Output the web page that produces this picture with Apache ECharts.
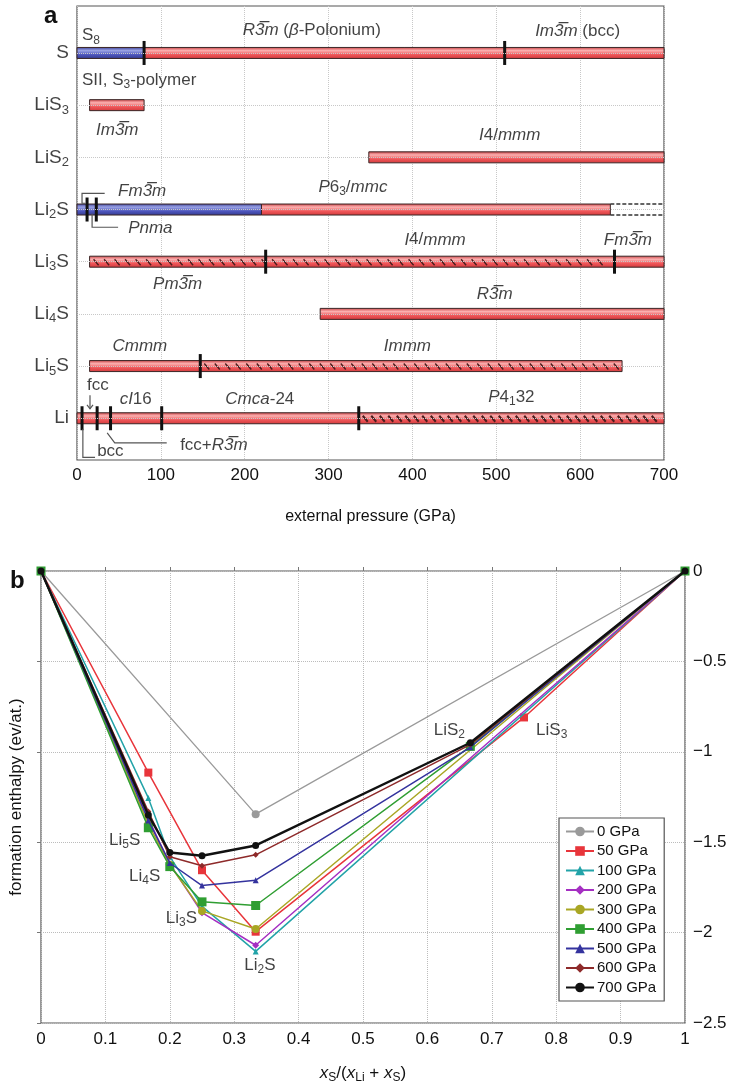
<!DOCTYPE html>
<html>
<head>
<meta charset="utf-8">
<script src="https://cdn.jsdelivr.net/npm/echarts@6/dist/echarts.min.js"></script>
<style>
html, body { margin: 0; padding: 0; background: #fff; }
#main { width: 734px; height: 1085px; }
</style>
</head>
<body>
<div id="main"></div>
<script>
// ---- panel a : phase diagram, rows top to bottom ----
var rowNames = ['S', 'LiS{sub|3}', 'LiS{sub|2}', 'Li{sub|2}S', 'Li{sub|3}S', 'Li{sub|4}S', 'Li{sub|5}S', 'Li'];
// [row, from GPa, to GPa, kind]
var phaseBars = [
  [0, 0, 80, 'blue'], [0, 80, 700, 'red'],
  [1, 15, 80, 'red'],
  [2, 348, 700, 'red'],
  [3, 0, 220, 'blue'], [3, 220, 636, 'red'], [3, 636, 700, 'dashed'],
  [4, 15, 640, 'hatch'], [4, 640, 700, 'red'],
  [5, 290, 700, 'red'],
  [6, 15, 147, 'red'], [6, 147, 650, 'hatch'],
  [7, 0, 336, 'red'], [7, 336, 700, 'dense']
];
// [row, GPa]
var transitions = [[0, 80], [0, 510], [3, 12], [3, 23], [4, 225], [4, 641], [6, 147],
  [7, 6], [7, 24], [7, 40], [7, 101], [7, 336]];
// [GPa, row position, text, align]
var phaseLabels = [
  [6, -0.33, 'S{sub|8}', 'left'],
  [280, -0.44, '{i|R3\u0305m} ({i|\u03b2}-Polonium)', 'center'],
  [597, -0.41, '{i|Im3\u0305m} (bcc)', 'center'],
  [6, 0.52, 'SII, S{sub|3}-polymer', 'left'],
  [48, 1.48, '{i|Im3\u0305m}', 'center'],
  [516, 1.58, '{i|I}4/{i|mmm}', 'center'],
  [49, 2.65, '{i|Fm3\u0305m}', 'left'],
  [329, 2.58, '{i|P}6{sub|3}/{i|mmc}', 'center'],
  [61, 3.36, '{i|Pnma}', 'left'],
  [427, 3.58, '{i|I}4/{i|mmm}', 'center'],
  [657, 3.58, '{i|Fm3\u0305m}', 'center'],
  [120, 4.43, '{i|Pm3\u0305m}', 'center'],
  [498, 4.63, '{i|R3\u0305m}', 'center'],
  [75, 5.63, '{i|Cmmm}', 'center'],
  [394, 5.63, '{i|Immm}', 'center'],
  [25, 6.37, 'fcc', 'center'],
  [70, 6.63, '{i|cI}16', 'center'],
  [218, 6.63, '{i|Cmca}-24', 'center'],
  [518, 6.6, '{i|P}4{sub|1}32', 'center'],
  [24, 7.63, 'bcc', 'left'],
  [123, 7.52, 'fcc+{i|R3\u0305m}', 'left']
];
// pointer lines, lists of [GPa, row position]
var pointerLines = [
  [[33, 2.69], [6, 2.69], [6, 2.88], [10, 2.88]],
  [[18, 3.08], [18, 3.34], [49, 3.34]],
  [[15.5, 6.56], [15.5, 6.82]],
  [[7, 7.2], [7, 7.75], [21.5, 7.75]],
  [[36, 7.28], [45, 7.47], [107, 7.47]]
];

// ---- panel b : formation enthalpy ----
var xS = [0, 1 / 6, 0.2, 0.25, 1 / 3, 2 / 3, 0.75, 1];
var h0   = [0, null, null, null, -1.345, null, null, 0];
var h50  = [0, -1.115, null, -1.655, -1.995, null, -0.81, 0];
var h100 = [0, -1.255, -1.58, -1.855, -2.104, null, null, 0];
var h200 = [0, -1.37, -1.62, -1.89, -2.07, null, null, 0];
var h300 = [0, -1.40, -1.625, -1.88, -1.98, null, null, 0];
var h400 = [0, -1.42, -1.635, -1.83, -1.85, -0.97, null, 0];
var h500 = [0, -1.38, -1.615, -1.74, -1.71, -0.975, null, 0];
var h600 = [0, -1.33, -1.58, -1.63, -1.57, -0.96, null, 0];
var h700 = [0, -1.35, -1.557, -1.575, -1.518, -0.95, null, 0];
var enthalpy = [h0, h50, h100, h200, h300, h400, h500, h600, h700];
var pressures = ['0 GPa', '50 GPa', '100 GPa', '200 GPa', '300 GPa', '400 GPa', '500 GPa', '600 GPa', '700 GPa'];
var lineColors = ['#9a9a9a', '#e8353b', '#22a3a8', '#a52fc2', '#a9a624', '#2f9e32', '#34339e', '#8e2a2a', '#111111'];
var lineSymbols = ['circle', 'rect', 'triangle', 'diamond', 'circle', 'rect', 'triangle', 'diamond', 'circle'];
var symbolSizes = [8, 8, 6, 7, 8, 9, 6, 6, 7];
// [x, y, text]
var compLabels = [
  [0.130, -1.49, 'Li{sub|5}S'],
  [0.161, -1.69, 'Li{sub|4}S'],
  [0.218, -1.92, 'Li{sub|3}S'],
  [0.340, -2.18, 'Li{sub|2}S'],
  [0.634, -0.88, 'LiS{sub|2}'],
  [0.793, -0.88, 'LiS{sub|3}']
];

var FONT = '"Liberation Sans", Arial, sans-serif';
var INK = '#111';
var rich = {
  i: { fontSize: 17, fontStyle: 'italic', fontFamily: FONT, color: INK },
  sub: { fontSize: 12, fontFamily: FONT, color: INK, padding: [9, 0, 0, 0] }
};

var redGrad = new echarts.graphic.LinearGradient(0, 0, 0, 1, [
  { offset: 0, color: '#c93b3e' },
  { offset: 0.3, color: '#fbb0b0' },
  { offset: 0.65, color: '#ef5558' },
  { offset: 1, color: '#cf3a3c' }
]);
var blueGrad = new echarts.graphic.LinearGradient(0, 0, 0, 1, [
  { offset: 0, color: '#373d96' },
  { offset: 0.3, color: '#9aa2e4' },
  { offset: 0.65, color: '#4d55bd' },
  { offset: 1, color: '#343a8c' }
]);

function renderBar(params, api) {
  var row = api.value(0);
  var a = api.coord([api.value(1), row]);
  var b = api.coord([api.value(2), row]);
  var kind = phaseBars[params.dataIndex][3];
  var h = 11, top = a[1] - h / 2;
  var kids = [];
  if (kind === 'dashed') {
    [top, top + h].forEach(function (yy) {
      kids.push({ type: 'line', shape: { x1: a[0], y1: yy, x2: b[0], y2: yy },
        style: { stroke: '#333', lineWidth: 1.3, lineDash: [4, 2] } });
    });
    return { type: 'group', children: kids };
  }
  kids.push({ type: 'rect', shape: { x: a[0], y: top, width: b[0] - a[0], height: h },
    style: { fill: kind === 'blue' ? blueGrad : redGrad, stroke: '#3b2626', lineWidth: 1 } });
  if (kind === 'hatch' || kind === 'dense') {
    var step = kind === 'hatch' ? 10.5 : 8.5;
    for (var x = a[0] + 4; x < b[0] - 6; x += step) {
      kids.push({ type: 'line', shape: { x1: x, y1: top + 3, x2: x + 5, y2: top + h - 2 },
        style: { stroke: '#4a1d1d', lineWidth: kind === 'hatch' ? 1.4 : 2 } });
    }
  }
  return { type: 'group', children: kids };
}

function renderTick(params, api) {
  var p = api.coord([api.value(1), api.value(0)]);
  return { type: 'line', shape: { x1: p[0], y1: p[1] - 12, x2: p[0], y2: p[1] + 12 },
    style: { stroke: '#111', lineWidth: 3 } };
}

function renderPointer(params, api) {
  var pts = pointerLines[params.dataIndex].map(function (q) { return api.coord(q); });
  var kids = [{ type: 'polyline', shape: { points: pts }, style: { stroke: '#555', lineWidth: 1.2, fill: null } }];
  if (params.dataIndex === 2) {
    var e = pts[pts.length - 1];
    kids.push({ type: 'polyline', shape: { points: [[e[0] - 3, e[1] - 4], [e[0], e[1]], [e[0] + 3, e[1] - 4]] },
      style: { stroke: '#555', lineWidth: 1.2, fill: null } });
  }
  return { type: 'group', children: kids };
}

var chart = echarts.init(document.getElementById('main'));

var series = [
  {
    type: 'scatter', xAxisIndex: 0, yAxisIndex: 0, symbolSize: 0, z: 1, silent: true,
    data: rowNames.map(function (n, i) { return [0, i]; }),
    label: {
      show: true, position: 'left', distance: 8, fontSize: 19, color: INK, fontFamily: FONT,
      formatter: function (p) { return rowNames[p.dataIndex]; },
      rich: { sub: { fontSize: 13, fontFamily: FONT, color: INK, padding: [10, 0, 0, 0] } }
    },
    markLine: {
      silent: true, symbol: 'none', label: { show: false },
      lineStyle: { type: 'dotted', color: '#c8c8c8', width: 1 },
      data: rowNames.map(function (n, i) { return { yAxis: i }; })
    }
  },
  {
    type: 'custom', xAxisIndex: 0, yAxisIndex: 0, z: 3, clip: false, silent: true,
    renderItem: renderBar, encode: { x: [1, 2], y: 0 },
    data: phaseBars.map(function (d) { return [d[0], d[1], d[2]]; })
  },
  {
    type: 'custom', xAxisIndex: 0, yAxisIndex: 0, z: 4, clip: false, silent: true,
    renderItem: renderTick, encode: { x: 1, y: 0 },
    data: transitions
  },
  {
    type: 'custom', xAxisIndex: 0, yAxisIndex: 0, z: 4, clip: false, silent: true,
    renderItem: renderPointer,
    data: pointerLines.map(function (l) { return l[0]; })
  },
  {
    type: 'scatter', xAxisIndex: 0, yAxisIndex: 0, symbolSize: 0, z: 5, silent: true,
    data: phaseLabels.map(function (d) {
      return { value: [d[0], d[1]], label: { align: d[3] } };
    }),
    label: {
      show: true, position: 'inside', fontSize: 17, color: INK, fontFamily: FONT,
      verticalAlign: 'middle',
      formatter: function (p) { return phaseLabels[p.dataIndex][2]; },
      rich: rich
    }
  }
];

enthalpy.forEach(function (vals, k) {
  series.push({
    name: pressures[k], type: 'line', xAxisIndex: 1, yAxisIndex: 1, z: 10 + k,
    data: xS.map(function (x, i) { return [x, vals[i]]; }).filter(function (d) { return d[1] !== null; }),
    symbol: lineSymbols[k], symbolSize: symbolSizes[k], showAllSymbol: true,
    lineStyle: { color: lineColors[k], width: k === 8 ? 2.4 : (k === 0 ? 1.3 : 1.5) },
    itemStyle: { color: lineColors[k] },
    emphasis: { disabled: true }
  });
});

series.push({
  type: 'scatter', xAxisIndex: 1, yAxisIndex: 1, symbolSize: 0, z: 30, silent: true,
  data: compLabels.map(function (d) { return [d[0], d[1]]; }),
  label: {
    show: true, position: 'inside', fontSize: 17, color: INK, fontFamily: FONT,
    formatter: function (p) { return compLabels[p.dataIndex][2]; },
    rich: rich
  }
});

var option = {
  animation: false,
  textStyle: { fontFamily: FONT },
  grid: [
    { left: 77, top: 6, width: 587, height: 454, show: true, borderColor: '#555', borderWidth: 1.2, backgroundColor: 'transparent' },
    { left: 38, top: 571, width: 647, height: 455, show: true, borderColor: '#555', borderWidth: 1.2, backgroundColor: 'transparent' }
  ],
  xAxis: [
    {
      gridIndex: 0, type: 'value', min: 0, max: 700, interval: 100,
      axisLine: { show: false }, axisTick: { inside: true, length: 4, lineStyle: { color: '#777' } },
      axisLabel: { fontSize: 17, color: INK, margin: 7 },
      splitLine: { lineStyle: { type: 'dotted', color: '#c8c8c8' } },
      name: 'external pressure (GPa)', nameLocation: 'middle', nameGap: 49,
      nameTextStyle: { fontSize: 16, color: INK }
    },
    {
      gridIndex: 1, type: 'value', min: 0, max: 1, interval: 0.1,
      axisLine: { show: false }, axisTick: { inside: true, length: 4, lineStyle: { color: '#777' } },
      axisLabel: { fontSize: 17, color: INK, margin: 8 },
      splitLine: { lineStyle: { type: 'dotted', color: '#bcbcbc' } },
      name: '{i|x}{sub|S}/({i|x}{sub|Li} + {i|x}{sub|S})', nameLocation: 'middle', nameGap: 40,
      nameTextStyle: { fontSize: 17, color: INK, rich: rich }
    }
  ],
  yAxis: [
    {
      gridIndex: 0, type: 'value', min: -0.9, max: 7.8, inverse: true,
      axisLine: { show: false }, axisTick: { show: false }, axisLabel: { show: false }, splitLine: { show: false }
    },
    {
      gridIndex: 1, type: 'value', min: -2.5, max: 0, interval: 0.5, position: 'right',
      axisLine: { show: false }, axisTick: { inside: true, length: 4, lineStyle: { color: '#777' } },
      axisLabel: { fontSize: 17, color: INK, margin: 8,
        formatter: function (v) { return String(v).replace('-', '\u2212'); } },
      splitLine: { lineStyle: { type: 'dotted', color: '#bcbcbc' } }
    },
    {
      gridIndex: 1, type: 'value', min: -2.5, max: 0, position: 'left',
      axisLine: { show: false }, axisTick: { show: false }, axisLabel: { show: false }, splitLine: { show: false },
      name: 'formation enthalpy (ev/at.)', nameLocation: 'middle', nameGap: 16,
      nameTextStyle: { fontSize: 17, color: INK }
    }
  ],
  legend: {
    data: pressures, orient: 'vertical', left: 559, top: 818,
    backgroundColor: '#fff', borderColor: '#555', borderWidth: 1.2,
    padding: [6, 8, 6, 6], itemGap: 4.5, itemWidth: 28, itemHeight: 12,
    textStyle: { fontSize: 15, color: INK, padding: [0, 0, 0, -2] },
    selectedMode: false
  },
  graphic: [
    { type: 'text', left: 44, top: 4, style: { text: 'a', font: 'bold 24px ' + FONT, fill: '#111' } },
    { type: 'text', left: 10, top: 569, style: { text: 'b', font: 'bold 24px ' + FONT, fill: '#111' } }
  ],
  series: series
};

chart.setOption(option);
</script>
</body>
</html>
